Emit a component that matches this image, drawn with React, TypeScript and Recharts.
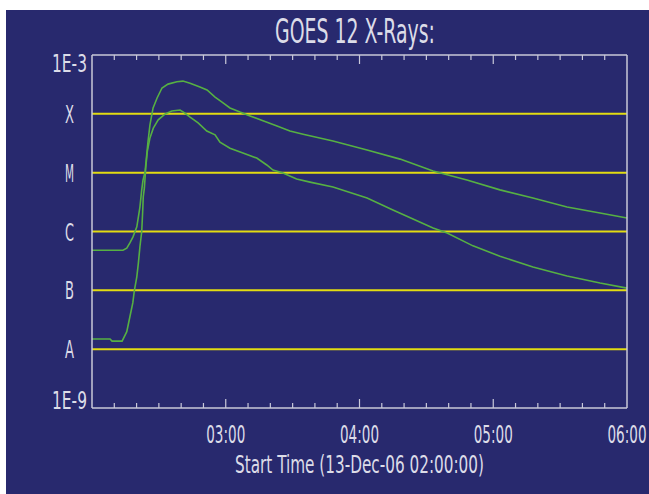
import React from "react"
import { LineChart, Line, XAxis, YAxis, ReferenceLine } from "recharts"

// minutes after 02:00 UT, 13-Dec-06
const longTimes = [0, 13.9, 15.6, 17.0, 18.4, 20.1, 20.6, 21.5, 22.3, 22.9, 23.8, 25.1, 26.0, 27.4, 29.2, 31.4, 34.1, 38.1, 40.8, 44.0, 48.4, 51.6, 55.2, 58.8, 61.9, 66.4, 70.9, 76.7, 83.0, 88.8, 94.7, 108.1, 123.4, 138.2, 153.0, 168.2, 183.0, 197.8, 213.1, 227.9, 240]
// 1-8 A channel, W/m^2
const longFlux = [4.8e-7, 4.8e-7, 5.2e-7, 6.4e-7, 8.1e-7, 1.2e-6, 1.57e-6, 2.6e-6, 5.1e-6, 7.5e-6, 1.03e-5, 3.3e-5, 6.5e-5, 1.26e-4, 1.86e-4, 2.75e-4, 3.2e-4, 3.5e-4, 3.6e-4, 3.3e-4, 2.86e-4, 2.54e-4, 1.93e-4, 1.53e-4, 1.26e-4, 1.07e-4, 9.2e-5, 7.6e-5, 6.2e-5, 5.1e-5, 4.5e-5, 3.45e-5, 2.43e-5, 1.7e-5, 1.07e-5, 7.5e-6, 5.1e-6, 3.7e-6, 2.6e-6, 2.06e-6, 1.7e-6]

const shortTimes = [0, 8.1, 9.0, 13.5, 15.6, 17.0, 18.3, 19.0, 20.1, 20.8, 21.5, 22.3, 22.7, 23.0, 23.5, 24.1, 24.8, 26.0, 27.5, 29.7, 32.7, 35.8, 39.5, 41.7, 44.0, 47.6, 51.5, 55.2, 57.4, 61.9, 67.7, 73.9, 78.4, 81.2, 85.7, 91.8, 97.8, 108.1, 123.4, 135.0, 153.0, 159.3, 170.9, 183.0, 197.8, 213.1, 227.9, 240]
// 0.5-4 A channel, W/m^2
const shortFlux = [1.49e-8, 1.49e-8, 1.37e-8, 1.37e-8, 1.98e-8, 3.56e-8, 6.1e-8, 9.9e-8, 1.7e-7, 2.9e-7, 5.5e-7, 9.9e-7, 2.06e-6, 3.9e-6, 5.5e-6, 1.2e-5, 2.27e-5, 3.9e-5, 5.7e-5, 7.9e-5, 9.9e-5, 1.12e-4, 1.16e-4, 1.03e-4, 8.8e-5, 7.0e-5, 5.1e-5, 4.4e-5, 3.3e-5, 2.6e-5, 2.16e-5, 1.77e-5, 1.35e-5, 1.11e-5, 9.9e-6, 7.8e-6, 6.9e-6, 5.7e-6, 3.7e-6, 2.32e-6, 1.15e-6, 9.4e-7, 5.7e-7, 3.8e-7, 2.5e-7, 1.75e-7, 1.33e-7, 1.09e-7]

const timeTicks = [0, 10, 20, 30, 40, 50, 60, 70, 80, 90, 100, 110, 120, 130, 140, 150, 160, 170, 180, 190, 200, 210, 220, 230, 240]
const hourTicks = [60, 120, 180, 240]
const hourLabels = ["03:00", "04:00", "05:00", "06:00"]

const fluxTicks = [1e-9, 1e-8, 1e-7, 1e-6, 1e-5, 1e-4, 1e-3]
const fluxLabels = ["1E-9", "A", "B", "C", "M", "X", "1E-3"]
const classLevels = [1e-8, 1e-7, 1e-6, 1e-5, 1e-4]

const longData = longTimes.map((t, i) => ({ t, flux: longFlux[i] }))
const shortData = shortTimes.map((t, i) => ({ t, flux: shortFlux[i] }))

const BG = "#28296e"
const FRAME = "#c9c9d9"
const TEXT = "#dcdce8"
const TRACE = "#56b043"
const LEVEL = "#e2dc12"
const FONT = "'Liberation Sans Narrow', 'DejaVu Sans Condensed', 'Roboto', sans-serif"

function TimeTick(props: any, inward: number) {
  const { x, y, payload } = props
  const v = payload.value
  const major = v % 60 === 0
  const idx = hourTicks.indexOf(v)
  const len = major ? 9 : 5
  return (
    <g>
      {v > 0 && v < 240 && (
        <line x1={x} x2={x} y1={y} y2={y + inward * len} stroke={FRAME} strokeWidth={1.2} />
      )}
      {inward < 0 && idx >= 0 && (
        <text
          x={x}
          y={y + 35}
          textAnchor="middle"
          fontSize={25}
          fontFamily={FONT}
          fill={TEXT}
          textLength={39}
          lengthAdjust="spacingAndGlyphs"
        >
          {hourLabels[idx]}
        </text>
      )}
    </g>
  )
}

function FluxTick(props: any) {
  const { x, y, payload } = props
  const idx = fluxTicks.findIndex((f) => Math.abs(Math.log10(f) - Math.log10(payload.value)) < 0.01)
  if (idx < 0) return <g />
  const label = fluxLabels[idx]
  if (label.length > 1) {
    const baseline = idx === 0 ? y + 1 : y + 17
    return (
      <text
        x={x - 5}
        y={baseline}
        textAnchor="end"
        fontSize={25}
        fontFamily={FONT}
        fill={TEXT}
        textLength={35}
        lengthAdjust="spacingAndGlyphs"
      >
        {label}
      </text>
    )
  }
  return (
    <text
      x={x - 22.5}
      y={y + 9}
      textAnchor="middle"
      fontSize={25}
      fontFamily={FONT}
      fill={TEXT}
      textLength={9}
      lengthAdjust="spacingAndGlyphs"
    >
      {label}
    </text>
  )
}

function xTitle(props: any) {
  const vb = props.viewBox || { x: 86, y: 398, width: 535, height: 60 }
  return (
    <text
      x={vb.x + vb.width / 2}
      y={vb.y + 65}
      textAnchor="middle"
      fontSize={25}
      fontFamily={FONT}
      fill={TEXT}
      textLength={249}
      lengthAdjust="spacingAndGlyphs"
    >
      Start Time (13-Dec-06 02:00:00)
    </text>
  )
}

function chartTitle(props: any) {
  const vb = props.viewBox || { x: 86, y: 44, width: 535, height: 1 }
  return (
    <text
      x={vb.x + vb.width / 2 - 4.5}
      y={vb.y + vb.height - 12}
      textAnchor="middle"
      fontSize={33}
      fontFamily={FONT}
      fill={TEXT}
      textLength={160}
      lengthAdjust="spacingAndGlyphs"
    >
      GOES 12 X-Rays:
    </text>
  )
}

export default function App() {
  return (
    <div style={{ position: "absolute", left: 6, top: 10, width: 643, height: 484, background: BG }}>
      <LineChart width={643} height={484} margin={{ top: 44, right: 21, bottom: 26, left: 0 }}>
        <XAxis
          dataKey="t"
          type="number"
          domain={[0, 240]}
          ticks={timeTicks}
          interval={0}
          height={60}
          tickSize={0}
          tickMargin={0}
          tickLine={false}
          axisLine={{ stroke: FRAME, strokeWidth: 1.5 }}
          tick={(p: any) => TimeTick(p, -1)}
          label={xTitle}
        />
        <XAxis
          xAxisId="top"
          orientation="top"
          dataKey="t"
          type="number"
          domain={[0, 240]}
          ticks={timeTicks}
          interval={0}
          height={1}
          tickSize={0}
          tickMargin={0}
          tickLine={false}
          axisLine={{ stroke: FRAME, strokeWidth: 1.5 }}
          tick={(p: any) => TimeTick(p, 1)}
          label={chartTitle}
        />
        <YAxis
          dataKey="flux"
          type="number"
          scale="log"
          domain={[1e-9, 1e-3]}
          allowDataOverflow
          ticks={fluxTicks}
          interval={0}
          width={86}
          tickSize={0}
          tickMargin={0}
          tickLine={false}
          axisLine={{ stroke: FRAME, strokeWidth: 1.5 }}
          tick={FluxTick}
        />
        <YAxis
          yAxisId="right"
          orientation="right"
          dataKey="flux"
          type="number"
          scale="log"
          domain={[1e-9, 1e-3]}
          allowDataOverflow
          ticks={fluxTicks}
          width={1}
          tick={false}
          tickLine={false}
          axisLine={{ stroke: FRAME, strokeWidth: 1.5 }}
        />
        {classLevels.map((lvl) => (
          <ReferenceLine key={lvl} y={lvl} stroke={LEVEL} strokeWidth={2} />
        ))}
        {/* invisible copy that keeps the top and right frame axes active */}
        <Line
          data={longData}
          dataKey="flux"
          xAxisId="top"
          yAxisId="right"
          stroke="none"
          dot={false}
          activeDot={false}
          isAnimationActive={false}
        />
        <Line
          data={longData}
          dataKey="flux"
          type="linear"
          stroke={TRACE}
          strokeWidth={1.6}
          dot={false}
          isAnimationActive={false}
        />
        <Line
          data={shortData}
          dataKey="flux"
          type="linear"
          stroke={TRACE}
          strokeWidth={1.6}
          dot={false}
          isAnimationActive={false}
        />
      </LineChart>
    </div>
  )
}
